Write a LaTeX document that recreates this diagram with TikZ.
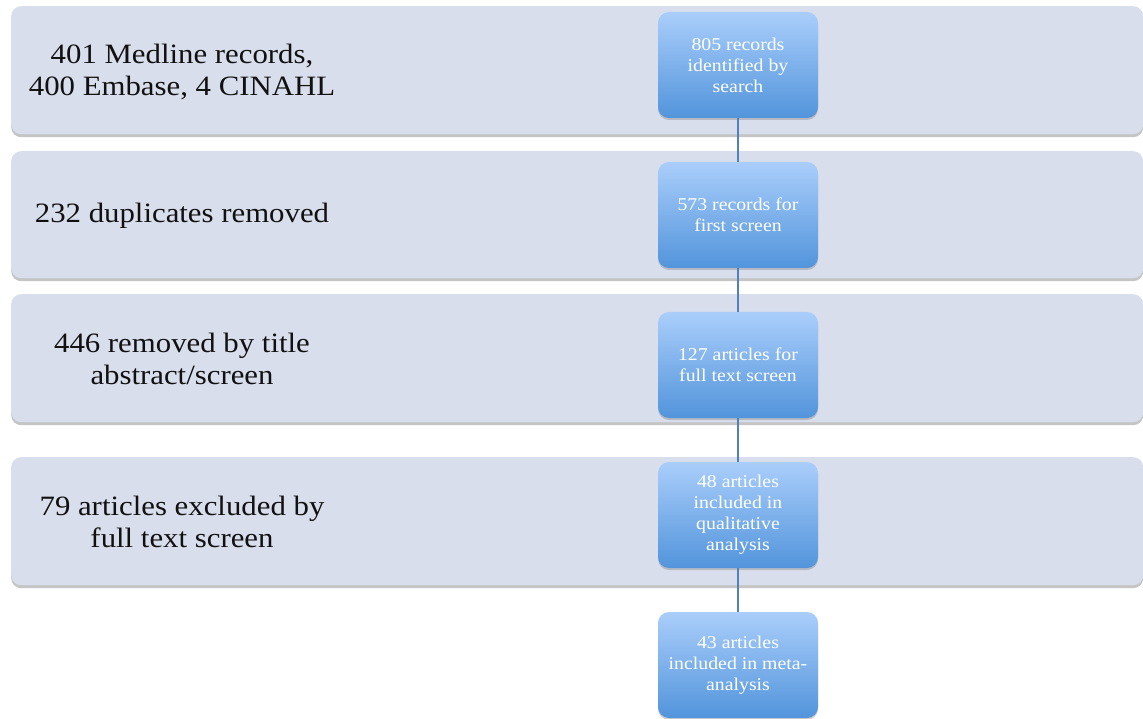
\documentclass[tikz,border=0pt]{standalone}
\usepackage{fontspec}
\setmainfont[FakeStretch=1.1]{Liberation Serif}
\usetikzlibrary{shadows}
\definecolor{bandfill}{RGB}{217,222,236}
\definecolor{boxtop}{RGB}{170,206,251}
\definecolor{boxbot}{RGB}{82,148,219}
\definecolor{linkcol}{RGB}{79,129,189}
\definecolor{txt}{RGB}{17,17,17}
\begin{document}
\begin{tikzpicture}[x=1pt,y=-1pt,
  band/.style={rectangle, rounded corners=10pt, fill=bandfill, inner sep=0pt,
    minimum width=1132pt, anchor=north west,
    drop shadow={opacity=0.5, shadow xshift=0pt, shadow yshift=-3pt, fill=black!45}},
  bandtext/.style={align=center, text=txt, font=\fontsize{28}{32}\selectfont, inner sep=0pt},
  stepbox/.style={rectangle, rounded corners=11pt, minimum width=160pt, minimum height=106pt,
    inner sep=2pt, align=center, text=white, font=\fontsize{18}{21}\selectfont,
    top color=boxtop, bottom color=boxbot, shading angle=0,
    drop shadow={opacity=0.3, shadow xshift=0pt, shadow yshift=-2pt, fill=black!60}},
  link/.style={draw=linkcol, line width=1.5pt}]
\useasboundingbox (0,0) rectangle (1143,719);
\fill[white] (0,0) rectangle (1143,719);
% bands
\node[band, minimum height=128pt] (r1) at (11,6) {};
\node[band, minimum height=127pt] (r2) at (11,151) {};
\node[band, minimum height=128pt] (r3) at (11,294) {};
\node[band, minimum height=128pt] (r4) at (11,457) {};
% band texts
\node[bandtext] (t1) at (182,72) {401 Medline records,\\400 Embase, 4 CINAHL};
\node[bandtext] (t2) at (182,216) {232 duplicates removed};
\node[bandtext] (t3) at (182,359) {446 removed by title\\abstract/screen};
\node[bandtext] (t4) at (182,522) {79 articles excluded by\\full text screen};
% boxes
\node[stepbox] (b1) at (738,65) {805 records\\identified by\\search};
\node[stepbox] (b2) at (738,215) {573 records for\\first screen};
\node[stepbox] (b3) at (738,365) {127 articles for\\full text screen};
\node[stepbox] (b4) at (738,515) {48 articles\\included in\\qualitative\\analysis};
\node[stepbox] (b5) at (738,665) {43 articles\\included in meta-\\analysis};
% connectors
\draw[link] (b1.south) -- (b2.north);
\draw[link] (b2.south) -- (b3.north);
\draw[link] (b3.south) -- (b4.north);
\draw[link] (b4.south) -- (b5.north);
\end{tikzpicture}
\end{document}
